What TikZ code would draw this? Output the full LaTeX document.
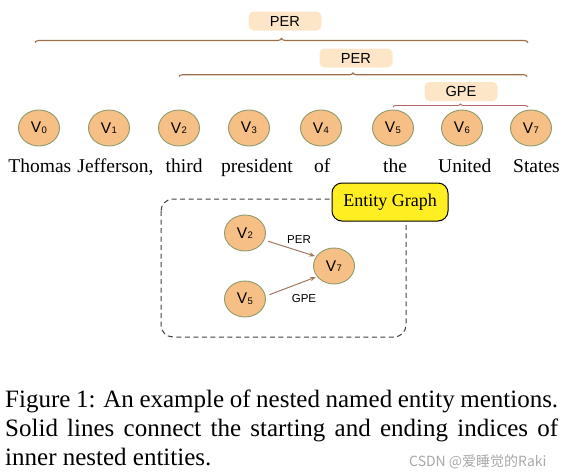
\documentclass[tikz,border=0pt]{standalone}
\usepackage{fontspec}
\setmainfont{Liberation Serif}
\setsansfont{Liberation Sans}
\newfontfamily\cjkfont{Noto Sans CJK SC}
\usetikzlibrary{shapes.geometric,arrows.meta,decorations.pathreplacing}

\definecolor{nodefill}{HTML}{F6BF86}
\definecolor{nodeedge}{HTML}{8E9A6C}
\definecolor{tagfill}{HTML}{FDE6C8}
\definecolor{bracebrown}{HTML}{9E6F4B}
\definecolor{bracered}{HTML}{B0666A}
\definecolor{arrowbrown}{HTML}{A07860}
\definecolor{egyellow}{HTML}{FFEF22}
\definecolor{markgray}{HTML}{A8A8A8}

\newcommand{\vlab}[1]{{\sffamily\fontsize{15.5}{16}\selectfont V\kern0.4pt\raisebox{-0.6pt}{\fontsize{9.5}{10}\selectfont #1}}}

\tikzset{
  vnode/.style={ellipse, draw=nodeedge, line width=0.9pt, fill=nodefill,
    minimum width=41pt, minimum height=36pt, inner sep=0pt},
  word/.style={anchor=base west, inner sep=0pt, font=\fontsize{19.5}{20}\selectfont},
  tagbox/.style={rounded corners=5pt, fill=tagfill, minimum width=73pt,
    minimum height=19pt, inner sep=0pt, font=\sffamily\fontsize{14.6}{15}\selectfont},
  spanbrace/.style={decorate, line width=1.1pt, draw=bracebrown},
  relarrow/.style={draw=arrowbrown, line width=1pt, -{Stealth[length=6pt,width=4.5pt]}},
  rellabel/.style={inner sep=0pt, font=\sffamily\fontsize{11.5}{12}\selectfont},
  capline/.style={anchor=base west, inner sep=0pt, font=\fontsize{25}{29}\selectfont}
}

\begin{document}
\begin{tikzpicture}[x=1pt, y=-1pt]
\useasboundingbox (0,0) rectangle (566,472);

% Entity tags
\node[tagbox] (per1) at (285,21) {PER};
\node[tagbox] (per2) at (356,58) {PER};
\node[tagbox] (gpe) at (461,91.5) {GPE};

% Span braces
\draw[spanbrace, decoration={brace, amplitude=4pt}] (35,42.5) -- (528,42.5);
\draw[spanbrace, decoration={brace, amplitude=3.5pt}] (179,76.5) -- (527,76.5);
\draw[spanbrace, draw=bracered, line width=0.9pt, decoration={brace, amplitude=3pt}] (393,107) -- (528,107);

% Token nodes
\node[vnode] (v0) at (39,128) {\vlab{0}};
\node[vnode] (v1) at (109,128) {\vlab{1}};
\node[vnode] (v2) at (179,128) {\vlab{2}};
\node[vnode] (v3) at (249,128) {\vlab{3}};
\node[vnode] (v4) at (321,128) {\vlab{4}};
\node[vnode] (v5) at (393,128) {\vlab{5}};
\node[vnode] (v6) at (462,128) {\vlab{6}};
\node[vnode] (v7) at (531,128) {\vlab{7}};

% Words
\node[word] (w0) at (8.3,172.5) {Thomas};
\node[word] (w1) at (77.3,172.5) {Jefferson,};
\node[word] (w2) at (165.5,172.5) {third};
\node[word] (w3) at (221,172.5) {president};
\node[word] (w4) at (314,172.5) {of};
\node[word] (w5) at (383,172.5) {the};
\node[word] (w6) at (438,172.5) {United};
\node[word] (w7) at (513,172.5) {States};

% Entity graph frame
\draw[line width=1pt, draw=black!75, dash pattern=on 5pt off 3.5pt, rounded corners=12pt]
  (161,199) rectangle (406,337);
\node[draw=black, line width=1pt, fill=egyellow, rounded corners=10pt,
  minimum width=116pt, minimum height=38pt, inner sep=0pt,
  font=\fontsize{18}{18}\selectfont] (eg) at (390,202) {Entity Graph};

% Graph nodes
\node[vnode] (gv2) at (245,233) {\vlab{2}};
\node[vnode] (gv5) at (245,299) {\vlab{5}};
\node[vnode] (gv7) at (334,266) {\vlab{7}};

% Relations
\draw[relarrow, shorten <=4pt, shorten >=1pt] (gv2.-20) -- (gv7.152);
\draw[relarrow, shorten <=4pt, shorten >=1pt] (gv5.8) -- (gv7.212);
\node[rellabel] (lper) at (299,240) {PER};
\node[rellabel] (lgpe) at (304,299) {GPE};

% Caption
\node[capline] (cap1) at (5,407) {\makebox[553pt][s]{Figure 1: An example of nested named entity mentions.}};
\node[capline] (cap2) at (5,436) {\makebox[553pt][s]{Solid lines connect the starting and ending indices of}};
\node[capline] (cap3) at (5,465) {inner nested entities.};
\node[anchor=base west, inner sep=0pt, text=markgray, font=\cjkfont\fontsize{14}{14}\selectfont] (mark) at (409,466) {CSDN @爱睡觉的Raki};

\end{tikzpicture}
\end{document}
